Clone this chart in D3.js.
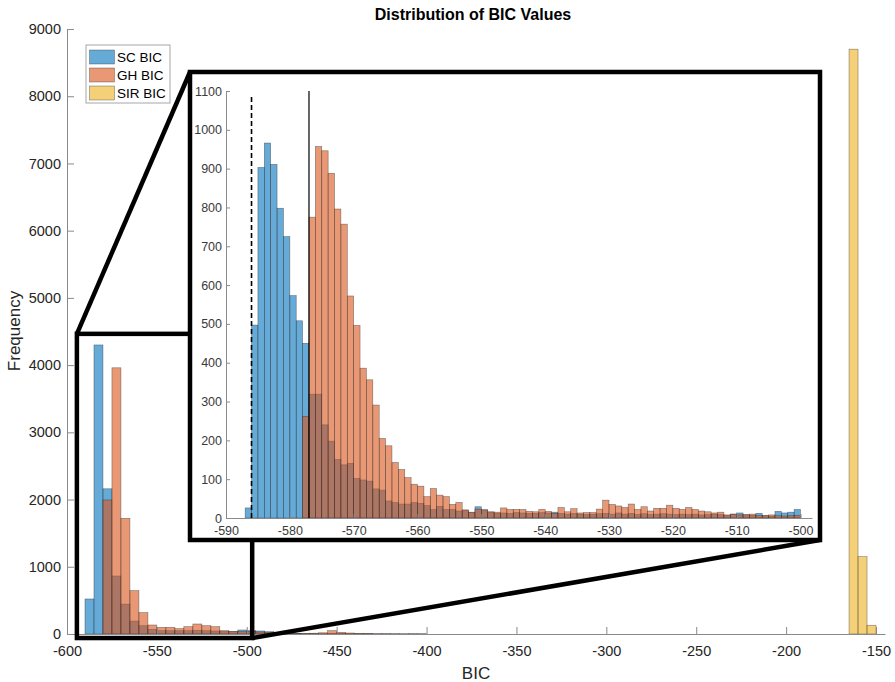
<!DOCTYPE html>
<html>
<head>
<meta charset="utf-8">
<script src="https://cdn.jsdelivr.net/npm/d3@7"></script>
<style>
  html, body { margin: 0; padding: 0; background: #fff; }
  svg { display: block; font-family: "Liberation Sans", Arial, Helvetica, sans-serif; }
</style>
</head>
<body>
<div id="chart"></div>
<script>
// ---------------- DATA ----------------
const chartTitle = "Distribution of BIC Values";
const xLabel = "BIC";
const yLabel = "Frequency";
const seriesNames = ["SC BIC", "GH BIC", "SIR BIC"];

// Main histogram: 5-unit bins
const mainBinStart = -590;
const mainBinWidth = 5;
const scMain = [521, 4300, 2160, 863, 445, 193, 124, 70, 50, 50, 50, 50, 55, 50, 45, 40, 35, 60, 50, 45, 35, 12, 6, 5, 4, 4, 3, 5, 6, 4, 3, 3, 2, 3, 2, 2, 3, 2];
const ghMain = [0, 0, 1994, 3960, 1721, 645, 318, 134, 99, 99, 80, 109, 149, 124, 109, 50, 40, 35, 40, 30, 25, 10, 6, 5, 8, 12, 18, 50, 25, 15, 8, 5, 4, 3, 3, 2, 2, 2];
const sirBinStart = -165;
const sirMain = [8700, 1150, 130];

// Inset histogram: 1-unit bins
const insetBinStart = -587;
const insetBinWidth = 1;
const scInset = [26, 497, 903, 966, 911, 798, 725, 573, 508, 450,
  319, 319, 240, 198, 151, 137, 141, 102, 98, 95,
  75, 72, 44, 40, 36, 36, 40, 38, 32, 22,
  30, 22, 22, 18, 20, 14, 29, 21, 15, 12,
  13, 12, 14, 13, 12, 12, 14, 13, 15, 12,
  10, 12, 10, 9, 10, 11, 12, 10, 13, 10,
  12, 9, 11, 9, 10, 11, 10, 9, 10, 9,
  10, 8, 9, 10, 9, 7, 10, 13, 8, 7,
  12, 6, 5, 17, 13, 15, 22];
const ghInset = [0, 0, 0, 0, 0, 0, 0, 0, 0, 262,
  775, 957, 946, 888, 796, 757, 572, 496, 386, 356,
  291, 205, 186, 143, 125, 104, 87, 82, 55, 76,
  59, 55, 35, 40, 21, 15, 23, 21, 16, 15,
  26, 22, 22, 22, 17, 16, 22, 17, 12, 27,
  16, 24, 13, 14, 14, 23, 46, 35, 31, 27,
  36, 22, 29, 18, 25, 25, 33, 25, 22, 27,
  22, 18, 16, 13, 15, 8, 10, 8, 9, 10,
  6, 6, 8, 6, 5, 6, 7];
const insetDashedAt = -586;
const insetSolidAt = -577;

// Ticks
const mainXTicks = [-600, -550, -500, -450, -400, -350, -300, -250, -200, -150];
const mainYTicks = [0, 1000, 2000, 3000, 4000, 5000, 6000, 7000, 8000, 9000];
const insetXTicks = [-590, -580, -570, -560, -550, -540, -530, -520, -510, -500];
const insetYTicks = [0, 100, 200, 300, 400, 500, 600, 700, 800, 900, 1000, 1100];

// Zoom region drawn on main axes (data units)
const zoomBox = { x0: -594.5, x1: -497, y0: -60, y1: 4465 };

// ---------------- LAYOUT / STYLE ----------------
const W = 895, H = 682;
const colors = { sc: "#0072BD", gh: "#D95319", sir: "#EDB120" };
const faceAlpha = 0.6;
const axisColor = "#8a8a8a";
const textColor = "#262626";
const font = '"Liberation Sans", Arial, Helvetica, sans-serif';

const svg = d3.select("#chart").append("svg").attr("width", W).attr("height", H);

// Main scales
const x = d3.scaleLinear().domain([-600, -145]).range([67, 885]);
const y = d3.scaleLinear().domain([0, 9000]).range([634, 29]);

function drawBars(g, xs, ys, start, width, values, color) {
  g.append("g").selectAll("rect")
    .data(values.map((v, i) => ({ v, i })).filter(d => d.v > 0))
    .join("rect")
    .attr("x", d => xs(start + d.i * width))
    .attr("width", d => xs(start + (d.i + 1) * width) - xs(start + d.i * width))
    .attr("y", d => ys(d.v))
    .attr("height", d => ys(0) - ys(d.v))
    .attr("fill", color)
    .attr("fill-opacity", faceAlpha)
    .attr("stroke", "#262626")
    .attr("stroke-opacity", 0.55)
    .attr("stroke-width", 0.6);
}

function styleAxis(g, fs, col) {
  g.selectAll(".domain").attr("stroke", axisColor).attr("stroke-width", 1);
  g.selectAll(".tick line").attr("stroke", axisColor);
  g.selectAll(".tick text").attr("fill", col).style("font-size", fs + "px").style("font-family", font);
}

// Main bars
const mainG = svg.append("g");
drawBars(mainG, x, y, mainBinStart, mainBinWidth, scMain, colors.sc);
drawBars(mainG, x, y, mainBinStart, mainBinWidth, ghMain, colors.gh);
drawBars(mainG, x, y, sirBinStart, mainBinWidth, sirMain, colors.sir);

// Main axes
const gx = svg.append("g").attr("transform", `translate(0,${y(0)})`)
  .call(d3.axisBottom(x).tickValues(mainXTicks).tickSizeInner(-7).tickSizeOuter(0).tickPadding(12).tickFormat(d3.format("d")));
styleAxis(gx, 14.5, textColor);
gx.selectAll(".tick text").text(d => String(d));

const gy = svg.append("g").attr("transform", `translate(${x(-600)},0)`)
  .call(d3.axisLeft(y).tickValues(mainYTicks).tickSizeInner(-7).tickSizeOuter(0).tickPadding(6).tickFormat(d3.format("d")));
styleAxis(gy, 14.5, textColor);

// Title and labels
svg.append("text").attr("x", 473).attr("y", 20).attr("text-anchor", "middle")
  .style("font-size", "16px").style("font-weight", "bold").attr("fill", "#000").text(chartTitle);
svg.append("text").attr("x", 476).attr("y", 679).attr("text-anchor", "middle")
  .style("font-size", "17px").attr("fill", textColor).text(xLabel);
svg.append("text").attr("transform", "translate(20,331) rotate(-90)").attr("text-anchor", "middle")
  .style("font-size", "17px").attr("fill", textColor).text(yLabel);

// Inset frame geometry
const frame = { x0: 190, y0: 72, x1: 820, y1: 540 };

// Zoom rectangle on main axes
const ann = svg.append("g");
ann.append("rect")
  .attr("x", x(zoomBox.x0)).attr("y", y(zoomBox.y1))
  .attr("width", x(zoomBox.x1) - x(zoomBox.x0)).attr("height", y(zoomBox.y0) - y(zoomBox.y1))
  .attr("fill", "none").attr("stroke", "#000").attr("stroke-width", 4.5);
// Connectors
ann.append("line")
  .attr("x1", x(zoomBox.x0)).attr("y1", y(zoomBox.y1))
  .attr("x2", frame.x0).attr("y2", frame.y0)
  .attr("stroke", "#000").attr("stroke-width", 4.5);
ann.append("line")
  .attr("x1", x(zoomBox.x1)).attr("y1", y(zoomBox.y0))
  .attr("x2", frame.x1).attr("y2", frame.y1)
  .attr("stroke", "#000").attr("stroke-width", 4.5);

// Inset
const inset = svg.append("g");
inset.append("rect")
  .attr("x", frame.x0).attr("y", frame.y0)
  .attr("width", frame.x1 - frame.x0).attr("height", frame.y1 - frame.y0)
  .attr("fill", "#fff").attr("stroke", "#000").attr("stroke-width", 4.5);

const xi = d3.scaleLinear().domain([-590, -498.2]).range([226, 812]);
const yi = d3.scaleLinear().domain([0, 1100]).range([518, 91]);

drawBars(inset, xi, yi, insetBinStart, insetBinWidth, scInset, colors.sc);
drawBars(inset, xi, yi, insetBinStart, insetBinWidth, ghInset, colors.gh);

const gxi = inset.append("g").attr("transform", `translate(0,${yi(0)})`)
  .call(d3.axisBottom(xi).tickValues(insetXTicks).tickSizeInner(-4).tickSizeOuter(0).tickPadding(8).tickFormat(d3.format("d")));
styleAxis(gxi, 12.5, "#3a3a3a");
gxi.selectAll(".tick text").text(d => String(d));
const gyi = inset.append("g").attr("transform", `translate(${xi(-590)},0)`)
  .call(d3.axisLeft(yi).tickValues(insetYTicks).tickSizeInner(-4).tickSizeOuter(0).tickPadding(4).tickFormat(d3.format("d")));
styleAxis(gyi, 12.5, "#3a3a3a");

// Reference lines
inset.append("line")
  .attr("x1", xi(insetDashedAt)).attr("x2", xi(insetDashedAt))
  .attr("y1", yi(0)).attr("y2", yi(1090))
  .attr("stroke", "#000").attr("stroke-width", 1.6).attr("stroke-dasharray", "5,3");
inset.append("line")
  .attr("x1", xi(insetSolidAt)).attr("x2", xi(insetSolidAt))
  .attr("y1", yi(0)).attr("y2", yi(1100))
  .attr("stroke", "#000").attr("stroke-width", 1.2);

// Legend
const legend = svg.append("g");
legend.append("rect").attr("x", 86).attr("y", 45).attr("width", 84).attr("height", 58)
  .attr("fill", "#fff").attr("stroke", "#a6a6a6").attr("stroke-width", 1);
const legColors = [colors.sc, colors.gh, colors.sir];
seriesNames.forEach((name, i) => {
  const cy = 57 + i * 18;
  legend.append("rect").attr("x", 89.5).attr("y", cy - 7).attr("width", 25).attr("height", 14)
    .attr("fill", legColors[i]).attr("fill-opacity", faceAlpha)
    .attr("stroke", "#262626").attr("stroke-opacity", 0.55).attr("stroke-width", 0.6);
  legend.append("text").attr("x", 117).attr("y", cy + 5)
    .style("font-size", "13.5px").attr("fill", "#000").text(name);
});
</script>
</body>
</html>
